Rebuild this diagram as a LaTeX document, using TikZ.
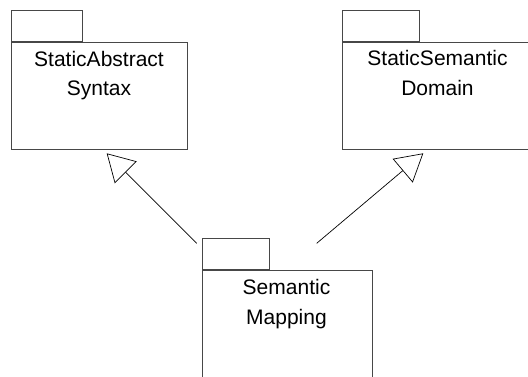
\documentclass[tikz,border=0pt]{standalone}
\usepackage{fontspec}
\setmainfont{Liberation Sans}
\newfontfamily\pkgfont{Liberation Sans}
\usetikzlibrary{arrows.meta}
\begin{document}
\begin{tikzpicture}[x=1pt,y=-1pt,
  pkgline/.style={draw=black!72,line width=1pt},
  pkgbody/.style={pkgline,rectangle,inner sep=0pt,anchor=north west},
  pkgtab/.style={pkgline,rectangle,inner sep=0pt,anchor=south west},
  pkglabel/.style={anchor=base,inner sep=0pt,font=\pkgfont\fontsize{21}{25}\selectfont},
  realize/.style={draw=black,line width=0.7pt,
    -{Triangle[open,length=27pt,width=31pt,line width=0.7pt]}}]
\useasboundingbox (0,0) rectangle (528,376);
\begin{scope}
\clip (0,0) rectangle (528,376);
% StaticAbstract Syntax package
\node[pkgtab,minimum width=70.7pt,minimum height=31.3pt] (sasTab) at (11,42) {};
\node[pkgbody,minimum width=176pt,minimum height=107pt] (sas) at (11,42) {};
\node[pkglabel] (sasL1) at (99,66.5) {StaticAbstract};
\node[pkglabel] (sasL2) at (99,95) {Syntax};
% StaticSemantic Domain package
\node[pkgtab,minimum width=77.3pt,minimum height=31.3pt] (ssdTab) at (341.7,42) {};
\node[pkgbody,minimum width=191.6pt,minimum height=107pt] (ssd) at (341.7,42) {};
\node[pkglabel] (ssdL1) at (437.5,65.5) {StaticSemantic};
\node[pkglabel] (ssdL2) at (437.5,95) {Domain};
% Semantic Mapping package
\node[pkgtab,minimum width=67pt,minimum height=31pt] (smTab) at (202.3,270.3) {};
\node[pkgbody,minimum width=169.4pt,minimum height=120pt] (sm) at (202.3,270.3) {};
\node[pkglabel] (smL1) at (286.5,294) {Semantic};
\node[pkglabel] (smL2) at (286.5,324) {Mapping};
\end{scope}
% realization arrows
\coordinate (smOutL) at (196.7,243.3);
\coordinate (sasIn) at (106.7,153.3);
\coordinate (smOutR) at (316.7,243.3);
\coordinate (ssdIn) at (423.3,153.3);
\draw[realize] (smOutL) -- (sasIn);
\draw[realize] (smOutR) -- (ssdIn);
\end{tikzpicture}
\end{document}
